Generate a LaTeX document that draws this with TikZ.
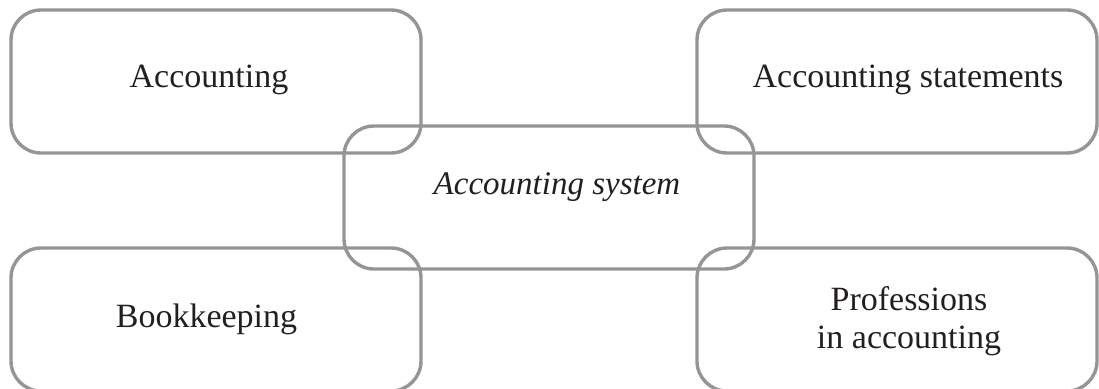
\documentclass[tikz,border=0pt]{standalone}
\usepackage{fontspec}
\setmainfont{Liberation Serif}
\definecolor{boxgray}{RGB}{149,149,152}
\definecolor{txt}{RGB}{35,31,32}
\tikzset{
  box/.style={draw=boxgray, line width=3.4pt, rounded corners=30pt, rectangle, inner sep=0pt},
  lbl/.style={anchor=base, text=txt, font=\fontsize{34}{38}\selectfont, inner sep=0pt, align=center}
}
\begin{document}
\begin{tikzpicture}[x=1pt,y=-1pt]
\useasboundingbox (0,0) rectangle (1099,388);
% boxes
\node[box, minimum width=410pt, minimum height=143pt] (tl) at (216,81.5) {};
\node[box, minimum width=400pt, minimum height=143pt] (tr) at (897,81.5) {};
\node[box, minimum width=410pt, minimum height=143pt] (c)  at (549,197.5) {};
\node[box, minimum width=410pt, minimum height=143pt] (bl) at (216,319.5) {};
\node[box, minimum width=400pt, minimum height=143pt] (br) at (897,319.5) {};
% labels
\node[lbl] (tlt) at (209,87) {Accounting};
\node[lbl] (trt) at (908,87) {Accounting statements};
\node[lbl] (ct)  at (557,194) {\fontsize{33}{38}\selectfont\itshape Accounting system};
\node[lbl] (blt) at (206.5,327) {Bookkeeping};
\node[lbl] (brt1) at (909,310) {Professions};
\node[lbl] (brt2) at (909,348) {in accounting};
\end{tikzpicture}
\end{document}
